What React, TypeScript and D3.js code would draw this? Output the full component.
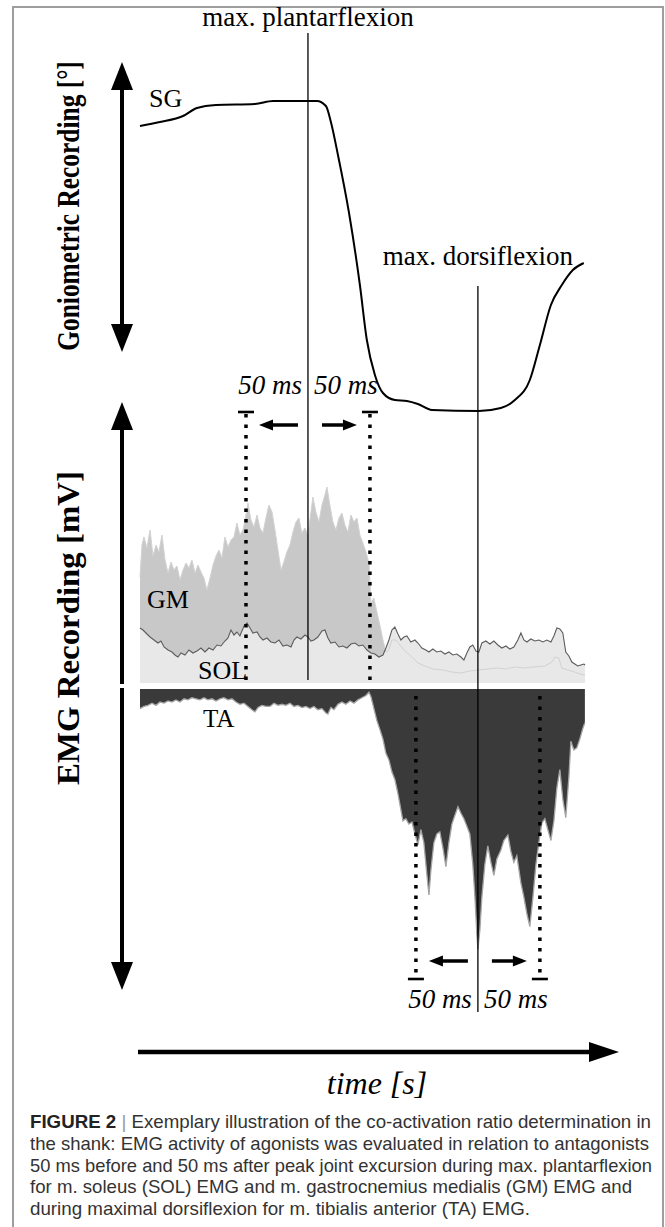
import * as d3 from "d3";

type Pt = [number, number];

// time axis in ms from the start of the stretch shown
const tDomain: Pt = [0, 359];

// shank goniometer (SG), [ms, degrees]
const sgAngle: Pt[] = [
  [0, 24.8], [16.1, 25.6], [34.7, 26.8], [46, 28.4], [61.3, 29.0], [92.7, 29.2], [107.3, 29.8],
  [142.7, 29.8], [150, 28.8], [154, 25.6], [159.7, 19.0], [168.5, 7.6], [177.4, -7.0],
  [183, -18.0], [189.5, -25.0], [196, -28.6], [205.6, -30.0], [215.3, -30.2], [224.2, -30.8],
  [235.5, -32.0], [273.4, -32.2], [291.1, -31.6], [302.4, -30.0], [314.5, -26.0], [322.6, -19.0],
  [331.5, -11.0], [340.3, -7.0], [349.2, -4.0], [358, -2.6],
];

// m. gastrocnemius medialis, [ms, mV]
const gmEmg: Pt[] = [
  [0, 0.53], [1.6, 0.69], [3.2, 0.73], [5.6, 0.675], [8.1, 0.765], [10.5, 0.635], [12.9, 0.69],
  [15.3, 0.655], [17.7, 0.74], [20.2, 0.615], [22.6, 0.55], [25, 0.605], [27.4, 0.565],
  [29.8, 0.585], [32.3, 0.515], [34.7, 0.565], [37.1, 0.6], [39.5, 0.575], [41.9, 0.615],
  [44.4, 0.55], [46.8, 0.59], [49.2, 0.555], [51.6, 0.525], [54, 0.465], [56.5, 0.525],
  [58.9, 0.59], [61.3, 0.635], [63.7, 0.665], [66.1, 0.625], [68.5, 0.73], [71, 0.68],
  [73.4, 0.715], [75.8, 0.73], [78.2, 0.8], [80.6, 0.74], [83.1, 0.765], [85.5, 0.84],
  [87.1, 0.9], [89.5, 0.815], [91.9, 0.78], [94.4, 0.84], [96.8, 0.775], [99.2, 0.75],
  [101.6, 0.825], [104, 0.89], [106.5, 0.855], [108.9, 0.765], [111.3, 0.665], [113.7, 0.565],
  [116.1, 0.605], [118.5, 0.655], [121, 0.69], [123.4, 0.755], [125.8, 0.805], [128.2, 0.825],
  [130.6, 0.75], [133.1, 0.775], [135.5, 0.74], [137.9, 0.855], [139.5, 0.93], [141.9, 0.855],
  [144.4, 0.805], [146.8, 0.89], [149.2, 0.94], [150.8, 0.98], [153.2, 0.89], [155.6, 0.805],
  [158.1, 0.765], [160.5, 0.825], [162.9, 0.85], [165.3, 0.79], [167.7, 0.755], [170.2, 0.84],
  [172.6, 0.805], [175, 0.825], [177.4, 0.74], [179.8, 0.7], [182.3, 0.655], [184.7, 0.6],
  [186.3, 0.4], [188.7, 0.425], [191.1, 0.355], [193.5, 0.29], [196, 0.215], [198.4, 0.155],
  [200.8, 0.165], [203.2, 0.215], [206.5, 0.215], [209.7, 0.19], [212.9, 0.165], [217.7, 0.14],
  [224.2, 0.1], [229.8, 0.085], [236.3, 0.07], [244.4, 0.065], [251.6, 0.055], [258.9, 0.05],
  [266.1, 0.06], [273.4, 0.065], [280.6, 0.07], [287.9, 0.075], [295.2, 0.07], [302.4, 0.08],
  [309.7, 0.075], [317, 0.08], [326.6, 0.085], [332.3, 0.105], [334.7, 0.13], [337.9, 0.125],
  [340.3, 0.075], [345.2, 0.065], [350.8, 0.055], [354.8, 0.045], [359, 0.04],
];

// m. soleus, [ms, mV]
const solEmg: Pt[] = [
  [0, 0.275], [2.4, 0.265], [5.6, 0.245], [8.1, 0.23], [11.3, 0.215], [14.5, 0.2], [16.9, 0.21],
  [19.4, 0.18], [22.6, 0.165], [25.8, 0.155], [28.2, 0.14], [30.6, 0.13], [33.1, 0.15],
  [36.3, 0.14], [39.5, 0.165], [42.7, 0.15], [46, 0.16], [49.2, 0.175], [52.4, 0.155],
  [55.6, 0.175], [58.9, 0.165], [62.1, 0.19], [65.3, 0.185], [68.5, 0.21], [71, 0.225],
  [73.4, 0.265], [75.8, 0.24], [78.2, 0.255], [80.6, 0.235], [83.9, 0.285], [86.3, 0.3],
  [88.7, 0.275], [91.1, 0.25], [94.4, 0.255], [96.8, 0.23], [99.2, 0.215], [102.4, 0.225],
  [105.6, 0.205], [108.9, 0.2], [112.1, 0.215], [115.3, 0.185], [118.5, 0.19], [121.8, 0.18],
  [124.2, 0.215], [126.6, 0.23], [129.8, 0.22], [133.1, 0.24], [135.5, 0.23], [137.9, 0.21],
  [140.3, 0.215], [143.5, 0.23], [146.8, 0.26], [149.2, 0.265], [151.6, 0.225], [154, 0.2],
  [157.3, 0.205], [160.5, 0.18], [163.7, 0.185], [166.9, 0.175], [170.2, 0.195], [173.4, 0.2],
  [176.6, 0.185], [179.8, 0.19], [183.1, 0.165], [186.3, 0.15], [189.5, 0.145], [192.7, 0.13],
  [196, 0.14], [198.4, 0.175], [200.8, 0.215], [203.2, 0.265], [205.6, 0.28], [208.1, 0.245],
  [210.5, 0.215], [212.9, 0.23], [215.3, 0.235], [218.5, 0.205], [221.8, 0.215], [224.2, 0.2],
  [227.4, 0.175], [230.6, 0.165], [233.1, 0.155], [236.3, 0.17], [239.5, 0.155], [242.7, 0.16],
  [246, 0.145], [249.2, 0.155], [252.4, 0.14], [255.6, 0.145], [258.9, 0.13], [261.3, 0.115],
  [263.7, 0.15], [266.1, 0.18], [268.5, 0.19], [271, 0.16], [273.4, 0.155], [275.8, 0.2],
  [279, 0.21], [282.3, 0.195], [285.5, 0.21], [288.7, 0.19], [291.9, 0.175], [295.2, 0.185],
  [298.4, 0.17], [301.6, 0.18], [304.8, 0.215], [307.3, 0.25], [309.7, 0.215], [312.1, 0.205],
  [315.3, 0.22], [318.5, 0.21], [321.8, 0.215], [325, 0.205], [328.2, 0.215], [331.5, 0.205],
  [333.9, 0.235], [336.3, 0.275], [338.7, 0.27], [341.1, 0.25], [343.5, 0.155], [346, 0.135],
  [348.4, 0.105], [350.8, 0.095], [353.2, 0.085], [355.6, 0.09], [358.1, 0.095], [359, 0.09],
];

// m. tibialis anterior (drawn downward), [ms, mV]
const taEmg: Pt[] = [
  [0, 0.09], [3.2, 0.08], [6.5, 0.075], [9.7, 0.065], [12.9, 0.075], [16.1, 0.06], [19.4, 0.065],
  [22.6, 0.055], [25.8, 0.06], [29, 0.05], [32.3, 0.06], [35.5, 0.045], [38.7, 0.05],
  [41.9, 0.04], [45.2, 0.045], [48.4, 0.05], [51.6, 0.04], [54.8, 0.05], [58.1, 0.045],
  [61.3, 0.055], [64.5, 0.045], [67.7, 0.04], [71, 0.05], [74.2, 0.045], [77.4, 0.06],
  [80.6, 0.07], [83.9, 0.065], [87.1, 0.08], [90.3, 0.095], [92.7, 0.105], [95.2, 0.085],
  [98.4, 0.075], [101.6, 0.08], [104.8, 0.08], [108.1, 0.065], [111.3, 0.075], [114.5, 0.07],
  [117.7, 0.075], [121, 0.065], [124.2, 0.08], [127.4, 0.075], [130.6, 0.085], [133.9, 0.08],
  [137.1, 0.09], [140.3, 0.08], [143.5, 0.095], [146.8, 0.09], [150, 0.11], [151.6, 0.115],
  [154, 0.085], [156.5, 0.095], [159.7, 0.07], [162.9, 0.06], [166.1, 0.07], [169.4, 0.055],
  [172.6, 0.065], [175.8, 0.05], [179, 0.04], [182.3, 0.03], [184.7, 0.015], [186.3, 0.035],
  [188.7, 0.09], [191.1, 0.145], [193.5, 0.185], [196, 0.23], [198.4, 0.295], [200.8, 0.325],
  [203.2, 0.38], [205.6, 0.415], [208.1, 0.48], [210.5, 0.555], [212.1, 0.605], [214.5, 0.595],
  [216.9, 0.62], [219.4, 0.61], [221.8, 0.665], [224.2, 0.715], [226.6, 0.645], [229, 0.705],
  [231.5, 0.855], [233.1, 0.945], [234.7, 0.83], [237.1, 0.705], [239.5, 0.665], [241.9, 0.655],
  [244.4, 0.73], [246.8, 0.815], [249.2, 0.705], [251.6, 0.62], [254, 0.58], [256.5, 0.54],
  [258.9, 0.57], [261.3, 0.595], [263.7, 0.63], [266.1, 0.665], [268.5, 0.805], [270.2, 0.955],
  [271.8, 1.13], [272.6, 1.195], [274.2, 1.105], [275.8, 0.955], [278.2, 0.805], [280.6, 0.72],
  [283.1, 0.795], [285.5, 0.855], [287.9, 0.78], [291.1, 0.74], [293.5, 0.695], [296.8, 0.67],
  [299.2, 0.745], [301.6, 0.795], [304, 0.765], [307.3, 0.89], [309.7, 0.955], [312.1, 1.03],
  [314.5, 1.09], [317, 0.955], [319.4, 0.805], [321.8, 0.705], [324.2, 0.615], [326.6, 0.595],
  [329, 0.645], [331.5, 0.695], [333.9, 0.605], [336.3, 0.455], [338.7, 0.37], [341.1, 0.505],
  [343.5, 0.59], [346, 0.405], [347.6, 0.24], [350, 0.28], [352.4, 0.27], [354.8, 0.23],
  [357.3, 0.18], [358.9, 0.155],
];

const plantarPeakMs = 135.5;
const dorsiPeakMs = 272.6;
const windowMs = 50;

const captionLines = [
  "Exemplary illustration of the co-activation ratio determination in",
  "the shank: EMG activity of agonists was evaluated in relation to antagonists",
  "50 ms before and 50 ms after peak joint excursion during max. plantarflexion",
  "for m. soleus (SOL) EMG and m. gastrocnemius medialis (GM) EMG and",
  "during maximal dorsiflexion for m. tibialis anterior (TA) EMG.",
];
const captionEnds = [651, 649, 652, 632, 530];

const SERIF = "'Liberation Serif', 'Times New Roman', serif";
const SANS = "'Liberation Sans', Arial, sans-serif";

// filled triangular arrow head, tip at (x, y)
function head(x: number, y: number, dir: "up" | "down" | "left" | "right", len: number, half: number) {
  if (dir === "up") return `M${x},${y}L${x - half},${y + len}L${x + half},${y + len}Z`;
  if (dir === "down") return `M${x},${y}L${x - half},${y - len}L${x + half},${y - len}Z`;
  if (dir === "left") return `M${x},${y}L${x + len},${y - half}L${x + len},${y + half}Z`;
  return `M${x},${y}L${x - len},${y - half}L${x - len},${y + half}Z`;
}

function Window({ cx, xl, xr, yText, yCap, yArrow, yTop, yBottom }: any) {
  return (
    <g>
      <line x1={xl} x2={xl} y1={yTop} y2={yBottom} stroke="#000" strokeWidth={3.5} strokeDasharray="3.5 7" />
      <line x1={xr} x2={xr} y1={yTop} y2={yBottom} stroke="#000" strokeWidth={3.5} strokeDasharray="3.5 7" />
      <line x1={xl - 8} x2={xl + 8} y1={yCap} y2={yCap} stroke="#000" strokeWidth={2.6} />
      <line x1={xr - 8} x2={xr + 8} y1={yCap} y2={yCap} stroke="#000" strokeWidth={2.6} />
      <line x1={xl + 24} x2={cx - 10} y1={yArrow} y2={yArrow} stroke="#000" strokeWidth={3.5} />
      <path d={head(xl + 13, yArrow, "left", 14, 5.5)} fill="#000" />
      <line x1={cx + 14} x2={xr - 24} y1={yArrow} y2={yArrow} stroke="#000" strokeWidth={3.5} />
      <path d={head(xr - 13, yArrow, "right", 14, 5.5)} fill="#000" />
      <text x={cx - 6} y={yText} textAnchor="end" fontFamily={SERIF} fontStyle="italic" fontSize={27}>50 ms</text>
      <text x={cx + 6} y={yText} textAnchor="start" fontFamily={SERIF} fontStyle="italic" fontSize={27}>50 ms</text>
    </g>
  );
}

export default function App() {
  const x = d3.scaleLinear().domain(tDomain).range([140, 585]);
  const yG = d3.scaleLinear().domain([-35, 30]).range([425, 100]);
  const yU = d3.scaleLinear().domain([0, 1]).range([683, 483]);
  const yT = d3.scaleLinear().domain([0, 1]).range([689, 907]);

  const sgLine = d3.line<Pt>().x((d) => x(d[0])).y((d) => yG(d[1])).curve(d3.curveMonotoneX);
  const upArea = d3.area<Pt>().x((d) => x(d[0])).y0(yU(0)).y1((d) => yU(d[1]));
  const upLine = d3.line<Pt>().x((d) => x(d[0])).y((d) => yU(d[1]));
  const taArea = d3.area<Pt>().x((d) => x(d[0])).y0(yT(0)).y1((d) => yT(d[1]));
  const taLine = d3.line<Pt>().x((d) => x(d[0])).y((d) => yT(d[1]));

  const xp = x(plantarPeakMs);
  const xd = x(dorsiPeakMs);
  const axX = 122;

  return (
    <svg width={665} height={1227} style={{ position: "absolute", left: 0, top: 0, background: "#fff" }}>
      <rect width={665} height={1227} fill="#fff" />
      {/* frame */}
      <path d="M13,1227V7H663V1227" fill="none" stroke="#9e9e9e" strokeWidth={2} />

      {/* EMG traces */}
      <path d={upArea(gmEmg) ?? ""} fill="#c8c8c8" />
      <path d={upArea(solEmg) ?? ""} fill="#e8e8e8" />
      <path d={upLine(gmEmg) ?? ""} fill="none" stroke="#d2d2d2" strokeWidth={1} />
      <path d={upLine(solEmg) ?? ""} fill="none" stroke="#5c5c5c" strokeWidth={1.1} />
      <path d={taArea(taEmg) ?? ""} fill="#3a3a3a" />
      <path d={taLine(taEmg) ?? ""} fill="none" stroke="#a5a5a5" strokeWidth={1.3} />

      {/* goniometer */}
      <path d={sgLine(sgAngle) ?? ""} fill="none" stroke="#000" strokeWidth={2} />

      {/* peak markers */}
      <line x1={xp} x2={xp} y1={33} y2={680} stroke="#000" strokeWidth={1.3} />
      <line x1={xd} x2={xd} y1={286} y2={1012} stroke="#000" strokeWidth={1.3} />
      <text x={xp} y={26} textAnchor="middle" fontFamily={SERIF} fontSize={27}>max. plantarflexion</text>
      <text x={xd} y={265} textAnchor="middle" fontFamily={SERIF} fontSize={27}>max. dorsiflexion</text>

      <Window cx={xp} xl={x(plantarPeakMs - windowMs)} xr={x(plantarPeakMs + windowMs)}
        yText={394} yCap={412} yArrow={425} yTop={414} yBottom={682} />
      <Window cx={xd} xl={x(dorsiPeakMs - windowMs)} xr={x(dorsiPeakMs + windowMs)}
        yText={1008} yCap={979} yArrow={961} yTop={696} yBottom={977} />

      {/* trace labels */}
      <text x={149} y={107} fontFamily={SERIF} fontSize={26}>SG</text>
      <text x={147} y={608} fontFamily={SERIF} fontSize={26}>GM</text>
      <text x={198} y={679} fontFamily={SERIF} fontSize={26}>SOL</text>
      <text x={203} y={727} fontFamily={SERIF} fontSize={25}>TA</text>

      {/* goniometric axis */}
      <line x1={axX} x2={axX} y1={84} y2={330} stroke="#000" strokeWidth={4} />
      <path d={head(axX, 62, "up", 28, 11)} fill="#000" />
      <path d={head(axX, 352, "down", 28, 11)} fill="#000" />
      {/* EMG axis */}
      <line x1={axX} x2={axX} y1={424} y2={968} stroke="#000" strokeWidth={4} />
      <rect x={axX - 4} y={684} width={8} height={4} fill="#fff" />
      <path d={head(axX, 402, "up", 28, 11)} fill="#000" />
      <path d={head(axX, 990, "down", 28, 11)} fill="#000" />
      {/* time axis */}
      <line x1={138} x2={594} y1={1052} y2={1052} stroke="#000" strokeWidth={4.5} />
      <path d={head(619, 1052, "right", 30, 10)} fill="#000" />

      {/* condensed vertical axis titles */}
      <text transform="translate(79,206) rotate(-90) scale(0.82,1)" textAnchor="middle" fontFamily={SERIF}
        fontWeight={700} fontSize={31}>
        Goniometric Recording [°]
      </text>
      <text transform="translate(79,628) rotate(-90) scale(1.06,1)" textAnchor="middle" fontFamily={SERIF}
        fontWeight={700} fontSize={31}>
        EMG Recording [mV]
      </text>
      <text x={377} y={1094} textAnchor="middle" fontFamily={SERIF} fontStyle="italic" fontSize={32}>time [s]</text>

      {/* caption */}
      {captionLines.map((line, i) => (
        <text key={i} x={30} y={1128 + i * 21.8} fontFamily={SANS} fontSize={18.5} fill="#333"
          textLength={captionEnds[i] - 30} lengthAdjust="spacingAndGlyphs">
          {i === 0 ? (
            <>
              <tspan fontWeight={700} fill="#222">FIGURE 2</tspan>
              <tspan fill="#999"> | </tspan>
              {line}
            </>
          ) : line}
        </text>
      ))}
    </svg>
  );
}
